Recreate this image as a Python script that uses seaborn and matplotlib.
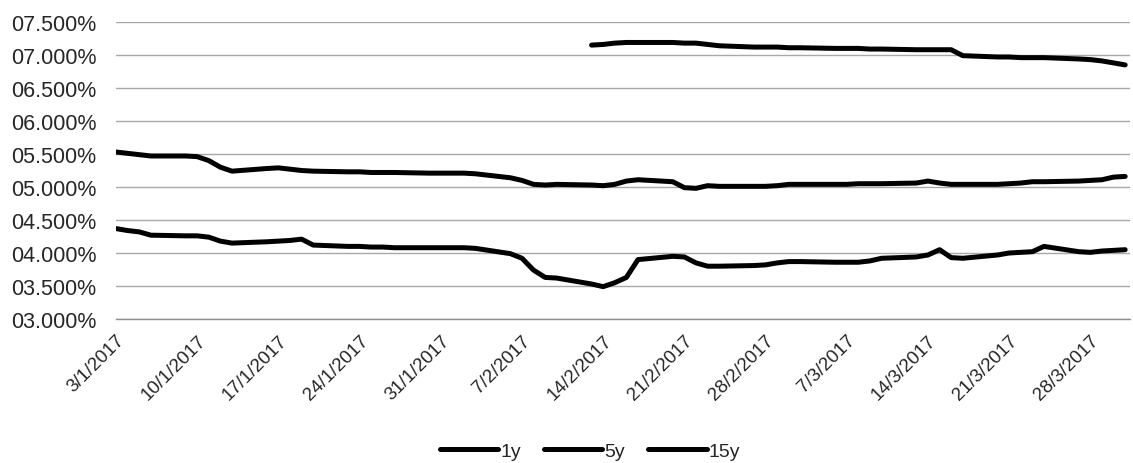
import numpy as np
import pandas as pd
import matplotlib
matplotlib.use("Agg")
import matplotlib.pyplot as plt
from matplotlib.lines import Line2D
from matplotlib.ticker import FuncFormatter
import seaborn as sns

# ---- data (business days 3/1/2017 .. 31/3/2017) ----
dates = pd.bdate_range("2017-01-03", "2017-03-31")

rate_1y = [
    # Jan
    4.37, 4.34, 4.32, 4.27, 4.26, 4.26, 4.24, 4.18, 4.15, 4.17, 4.18, 4.19, 4.21, 4.12, 4.10,
    4.10, 4.09, 4.09, 4.08, 4.08, 4.08,
    # Feb
    4.08, 4.08, 4.07, 3.99, 3.92, 3.74, 3.63, 3.62, 3.53, 3.49, 3.55, 3.63, 3.90, 3.95, 3.94,
    3.85, 3.80, 3.80, 3.81, 3.82,
    # Mar
    3.85, 3.87, 3.87, 3.86, 3.86, 3.86, 3.88, 3.92, 3.94, 3.97, 4.05, 3.93, 3.92, 3.97, 4.00,
    4.01, 4.02, 4.10, 4.02, 4.01, 4.03, 4.04, 4.05,
]

rate_5y = [
    # Jan
    5.53, 5.51, 5.49, 5.47, 5.47, 5.46, 5.40, 5.30, 5.24, 5.28, 5.29, 5.27, 5.25, 5.24, 5.23,
    5.23, 5.22, 5.22, 5.22, 5.21, 5.21,
    # Feb
    5.21, 5.21, 5.20, 5.14, 5.10, 5.04, 5.03, 5.04, 5.03, 5.02, 5.04, 5.09, 5.11, 5.08, 4.99,
    4.98, 5.02, 5.01, 5.01, 5.01,
    # Mar
    5.02, 5.04, 5.04, 5.04, 5.04, 5.05, 5.05, 5.05, 5.06, 5.09, 5.06, 5.04, 5.04, 5.04, 5.05,
    5.06, 5.08, 5.08, 5.09, 5.10, 5.11, 5.15, 5.16,
]

rate_15y = [np.nan] * 29 + [
    # Feb 13 ..
    7.15, 7.16, 7.18, 7.19, 7.19, 7.19, 7.18, 7.18, 7.16, 7.14, 7.12, 7.12,
    # Mar
    7.12, 7.11, 7.11, 7.10, 7.10, 7.10, 7.09, 7.09, 7.08, 7.08, 7.08, 7.08, 6.99, 6.97, 6.97,
    6.96, 6.96, 6.96, 6.94, 6.93, 6.91, 6.88, 6.85,
]

series_names = ["1y", "5y", "15y"]
tick_dates = pd.date_range("2017-01-03", "2017-03-28", freq="7D")
tick_labels = [f"{d.day}/{d.month}/{d.year}" for d in tick_dates]
y_ticks = np.arange(3.0, 7.51, 0.5)

# ---- style ----
sns.set_style("white")
plt.rcParams["font.family"] = ["Liberation Sans", "DejaVu Sans"]

df = pd.DataFrame({"date": dates, "1y": rate_1y, "5y": rate_5y, "15y": rate_15y})
long = df.melt(id_vars="date", var_name="series", value_name="rate").dropna()

W, H = 1133, 464
fig = plt.figure(figsize=(W / 100, H / 100), dpi=100)
ax = fig.add_axes([116 / W, 1 - 320 / H, (1130 - 116) / W, (320 - 23) / H])

sns.lineplot(data=long, x="date", y="rate", hue="series", hue_order=series_names,
             palette=["black"] * 3, linewidth=3.6, errorbar=None, legend=False, ax=ax)
for ln in ax.get_lines():
    ln.set_solid_capstyle("round")
    ln.set_solid_joinstyle("round")

ax.set_ylim(3.0, 7.5)
ax.set_yticks(y_ticks)
ax.yaxis.set_major_formatter(FuncFormatter(lambda v, p: f"{v:06.3f}%"))
ax.yaxis.grid(True, color="#a8a8a8", linewidth=1.0)
ax.set_axisbelow(True)
ax.set_xlim(dates[0], dates[-1] + pd.Timedelta(hours=10))
ax.set_xticks(tick_dates)
ax.set_xticklabels(tick_labels, rotation=45, ha="right", rotation_mode="anchor")
ax.tick_params(axis="x", direction="out", length=5, color="#909090", labelsize=13.5, pad=4)
ax.tick_params(axis="y", length=0, labelsize=15.5, pad=14)
ax.set_xlabel("")
ax.set_ylabel("")
for s in ["top", "right", "left"]:
    ax.spines[s].set_visible(False)
ax.spines["bottom"].set_color("#909090")
ax.spines["bottom"].set_linewidth(1.0)

handles = [Line2D([], [], color="black", linewidth=3.6) for _ in series_names]
fig.legend(handles, series_names, loc="center", bbox_to_anchor=(590 / W, 1 - 452 / H),
           ncol=3, frameon=False, handlelength=3.0, handletextpad=0.1,
           columnspacing=1.2, fontsize=14)

fig.savefig("out.png", dpi=100)
